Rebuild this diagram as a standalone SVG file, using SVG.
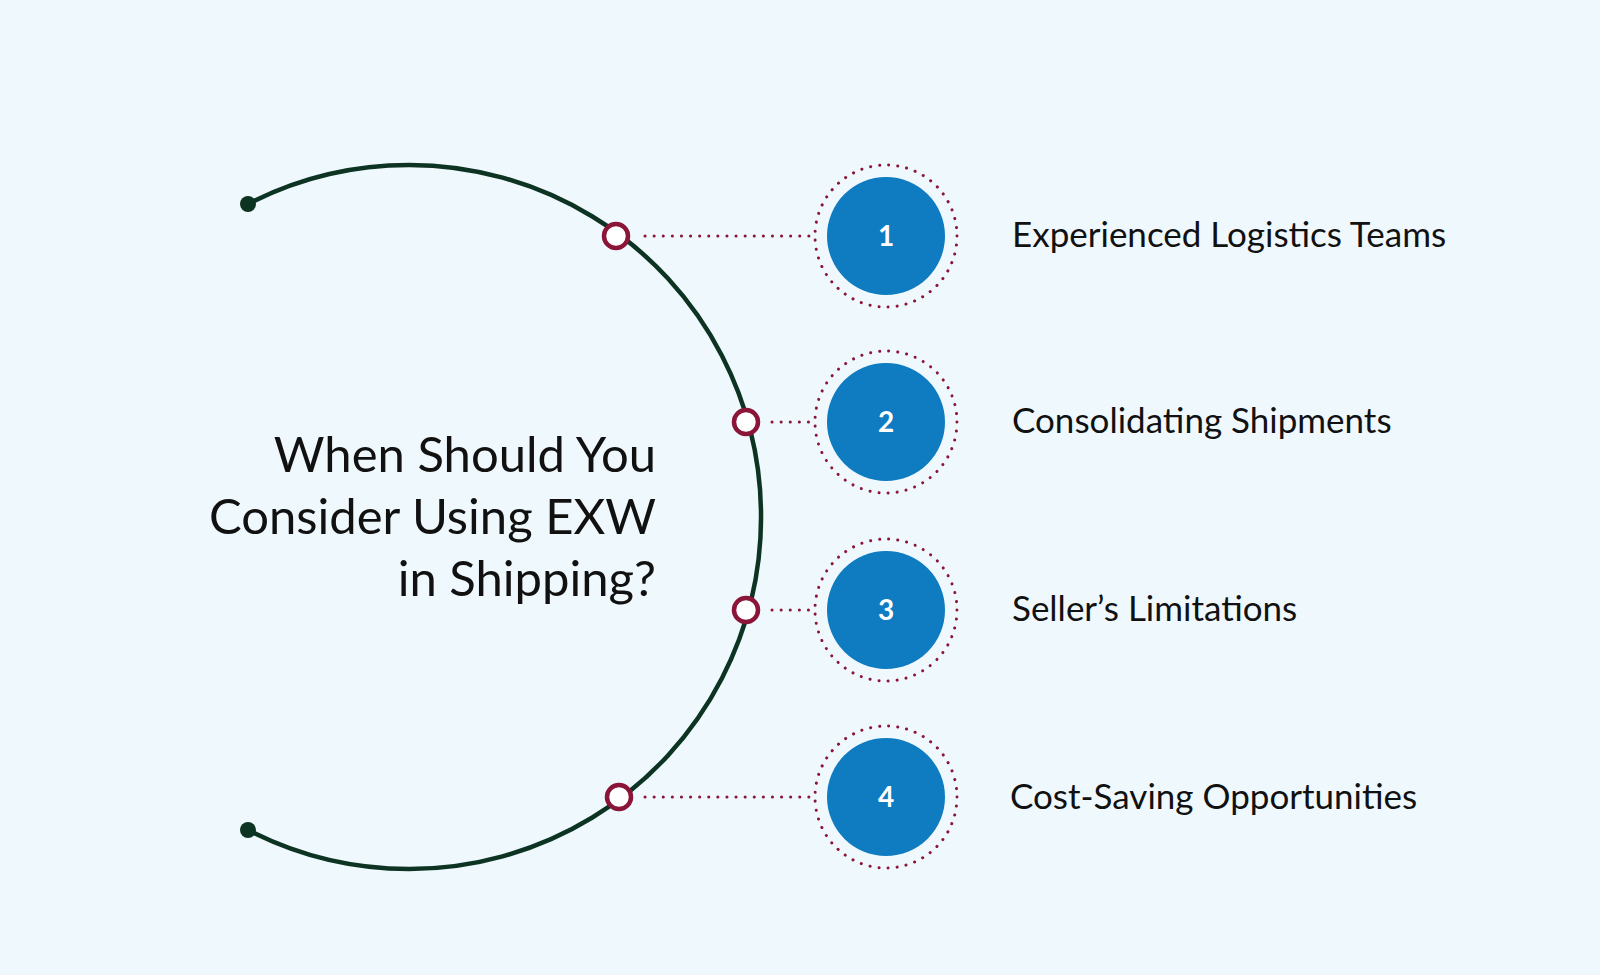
<svg xmlns="http://www.w3.org/2000/svg" width="1600" height="975" viewBox="0 0 1600 975">
<style>
.dot{stroke:#8B1538;stroke-width:3;stroke-dasharray:0.1 9;stroke-linecap:round;fill:none}
.pin{fill:#fff;stroke:#8B1538;stroke-width:4.5}
.blue{fill:#0F7BC0}
.num{font-family:"Lato",sans-serif;font-weight:700;font-size:28px;fill:#fff;text-anchor:middle}
.lbl{font-family:"Lato",sans-serif;font-size:35px;fill:#111}
.title{font-family:"Lato",sans-serif;font-size:49px;fill:#111;text-anchor:end}
</style>
<rect width="1600" height="975" fill="#EFF9FD"/>
<g id="arc">
<path d="M248 204 A352 352 0 1 1 248 830" fill="none" stroke="#0d3322" stroke-width="4.5"/>
<circle cx="248" cy="204" r="8" fill="#0d3322"/>
<circle cx="248" cy="830" r="8" fill="#0d3322"/>
</g>
<g id="title">
<text class="title" x="656" y="472">When Should You</text>
<text class="title" x="656" y="534">Consider Using EXW</text>
<text class="title" x="656" y="596">in Shipping?</text>
</g>
<g id="connectors">
<line class="dot" x1="645" y1="236" x2="812" y2="236"/>
<line class="dot" x1="772" y1="422" x2="812" y2="422"/>
<line class="dot" x1="772" y1="610" x2="812" y2="610"/>
<line class="dot" x1="645" y1="797" x2="812" y2="797"/>
</g>
<g id="node1"><circle class="pin" cx="616" cy="236" r="12"/><circle class="dot" cx="886" cy="236" r="71"/><circle class="blue" cx="886" cy="236" r="59"/><text class="num" x="886" y="246">1</text><text class="lbl" x="1012" y="247">Experienced Logistics Teams</text></g>
<g id="node2"><circle class="pin" cx="746" cy="422" r="12"/><circle class="dot" cx="886" cy="422" r="71"/><circle class="blue" cx="886" cy="422" r="59"/><text class="num" x="886" y="432">2</text><text class="lbl" x="1012" y="433">Consolidating Shipments</text></g>
<g id="node3"><circle class="pin" cx="746" cy="610" r="12"/><circle class="dot" cx="886" cy="610" r="71"/><circle class="blue" cx="886" cy="610" r="59"/><text class="num" x="886" y="620">3</text><text class="lbl" x="1012" y="621">Seller’s Limitations</text></g>
<g id="node4"><circle class="pin" cx="619" cy="797" r="12"/><circle class="dot" cx="886" cy="797" r="71"/><circle class="blue" cx="886" cy="797" r="59"/><text class="num" x="886" y="807">4</text><text class="lbl" x="1010" y="809">Cost-Saving Opportunities</text></g>
</svg>
